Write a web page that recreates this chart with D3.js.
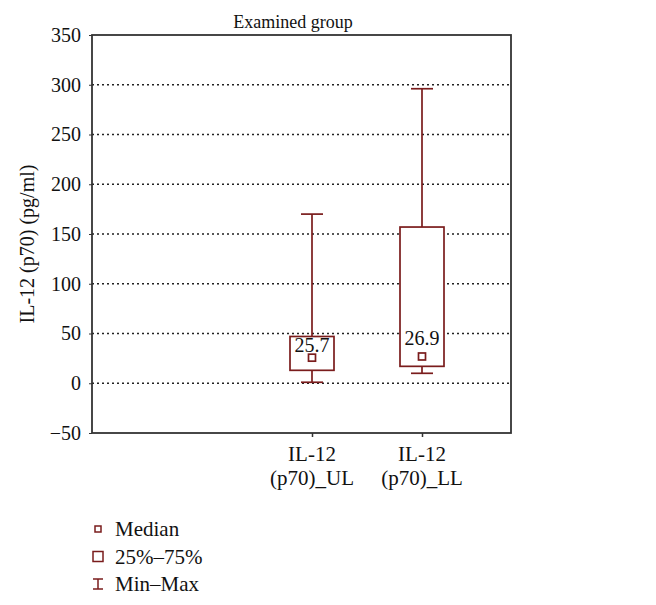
<!DOCTYPE html>
<html>
<head>
<meta charset="utf-8">
<script src="https://cdn.jsdelivr.net/npm/d3@7"></script>
<style>
  body { margin: 0; background: #fff; }
  text { font-family: "Liberation Serif", "DejaVu Serif", serif; fill: #111; }
</style>
</head>
<body>
<div id="chart"></div>
<script>
// data
const groups = ["UL", "LL"];
const groupLabels = [["IL-12", "(p70)_UL"], ["IL-12", "(p70)_LL"]];
const medians = [25.7, 26.9];
const q1 = [13, 17];
const q3 = [47, 157];
const mins = [1, 10];
const maxs = [170, 296];
const yTicks = [-50, 0, 50, 100, 150, 200, 250, 300, 350];
const legendItems = ["Median", "25%\u201375%", "Min\u2013Max"];

const W = 656, H = 605;
const margin = { top: 35, right: 145, bottom: 172, left: 92 };
const width = W - margin.left - margin.right,
      height = H - margin.top - margin.bottom;
const red = "#7a1c1c";

const svg = d3.select("#chart").append("svg")
    .attr("width", W).attr("height", H);
const g = svg.append("g")
    .attr("transform", `translate(${margin.left},${margin.top})`);

const y = d3.scaleLinear().domain([-50, 350]).range([height, 0]);
const x = d3.scalePoint().domain(groups).range([220, 330]);

// dotted grid
g.append("g").selectAll("line")
    .data(yTicks.filter(t => t > -50 && t < 350))
    .enter().append("line")
    .attr("x1", 0).attr("x2", width)
    .attr("y1", d => y(d)).attr("y2", d => y(d))
    .attr("stroke", "#222").attr("stroke-width", 1.5)
    .attr("stroke-dasharray", "2,3");

// frame
g.append("rect")
    .attr("width", width).attr("height", height)
    .attr("fill", "none").attr("stroke", "#333").attr("stroke-width", 1.8);

// y axis
const yAxis = g.append("g")
    .call(d3.axisLeft(y).tickValues(yTicks).tickSize(3).tickPadding(8));
yAxis.select(".domain").remove();
yAxis.selectAll("line").attr("stroke", "#333");
yAxis.selectAll("text").style("font-size", "20px")
    .style("font-family", "'Liberation Serif', serif").attr("fill", "#111");

// x axis ticks
const xAxis = g.append("g")
    .attr("transform", `translate(0,${height})`)
    .call(d3.axisBottom(x).tickSize(4).tickFormat(""));
xAxis.select(".domain").remove();
xAxis.selectAll("line").attr("stroke", "#333").attr("stroke-width", 1.5);

groups.forEach((grp, i) => {
    const t = g.append("text")
        .attr("x", x(grp)).attr("y", height + 28)
        .attr("text-anchor", "middle").style("font-size", "21px");
    groupLabels[i].forEach((line, j) => {
        t.append("tspan").attr("x", x(grp)).attr("dy", j === 0 ? 0 : 24).text(line);
    });
});

// boxes
const bw = 44, cap = 22;
groups.forEach((grp, i) => {
    const cx = x(grp);
    const b = g.append("g").attr("stroke", red).attr("stroke-width", 1.7).attr("fill", "none");
    b.append("line").attr("x1", cx).attr("x2", cx).attr("y1", y(maxs[i])).attr("y2", y(q3[i]));
    b.append("line").attr("x1", cx).attr("x2", cx).attr("y1", y(q1[i])).attr("y2", y(mins[i]));
    b.append("line").attr("x1", cx - cap / 2).attr("x2", cx + cap / 2).attr("y1", y(maxs[i])).attr("y2", y(maxs[i]));
    b.append("line").attr("x1", cx - cap / 2).attr("x2", cx + cap / 2).attr("y1", y(mins[i])).attr("y2", y(mins[i]));
    b.append("rect").attr("x", cx - bw / 2).attr("width", bw)
        .attr("y", y(q3[i])).attr("height", y(q1[i]) - y(q3[i])).attr("fill", "#fff");
    b.append("rect").attr("x", cx - 3.5).attr("y", y(medians[i]) - 3.5)
        .attr("width", 7).attr("height", 7).attr("fill", "#fff");
    g.append("text").attr("x", cx).attr("y", y(medians[i]) - (i === 0 ? 6 : 11))
        .attr("text-anchor", "middle").style("font-size", "20px")
        .text(medians[i]);
});

// title
svg.append("text").attr("x", 293).attr("y", 28)
    .attr("text-anchor", "middle").style("font-size", "18px").text("Examined group");

// y label
svg.append("text")
    .attr("transform", `translate(34,${margin.top + height / 2 + 10}) rotate(-90)`)
    .attr("text-anchor", "middle").style("font-size", "20px")
    .text("IL-12 (p70) (pg/ml)");

// legend
const lg = svg.append("g").attr("transform", "translate(98,529)");
legendItems.forEach((d, i) => {
    const row = lg.append("g").attr("transform", `translate(0,${i * 27.5})`);
    const m = row.append("g").attr("stroke", red).attr("stroke-width", 1.5).attr("fill", "none");
    if (i === 0) m.append("rect").attr("x", -3).attr("y", -3).attr("width", 6).attr("height", 6);
    else if (i === 1) m.append("rect").attr("x", -5).attr("y", -5).attr("width", 10).attr("height", 10);
    else {
        m.append("line").attr("x1", -5).attr("x2", 5).attr("y1", -5).attr("y2", -5);
        m.append("line").attr("x1", -5).attr("x2", 5).attr("y1", 5).attr("y2", 5);
        m.append("line").attr("x1", 0).attr("x2", 0).attr("y1", -5).attr("y2", 5);
    }
    row.append("text").attr("x", 17).attr("y", 7).style("font-size", "21px").text(d);
});
</script>
</body>
</html>
